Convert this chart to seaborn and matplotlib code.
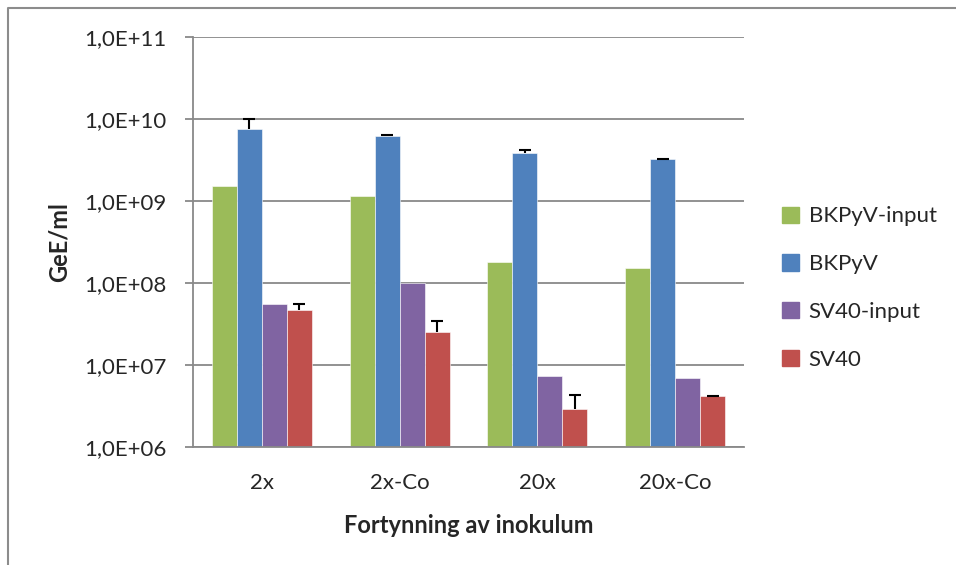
import numpy as np
import pandas as pd
import seaborn as sns
from matplotlib import pyplot as plt
from matplotlib.lines import Line2D
from matplotlib.ticker import FuncFormatter, FixedLocator, NullLocator

#%%
categories = ['2x', '2x-Co', '20x', '20x-Co']
series = ['BKPyV-input', 'BKPyV', 'SV40-input', 'SV40']
bkpyv_input = [1.50e9, 1.15e9, 1.77e8, 1.52e8]
bkpyv = [7.6e9, 6.2e9, 3.8e9, 3.2e9]
sv40_input = [5.5e7, 1.0e8, 7.3e6, 6.9e6]
sv40 = [4.7e7, 2.5e7, 2.9e6, 4.15e6]
# upper error only
bkpyv_err = [2.3e9, 0.12e9, 0.37e9, 0.06e9]
sv40_err = [0.8e7, 0.95e7, 1.4e6, 0.06e6]

colors = ['#9BBB59', '#4F81BD', '#8064A2', '#C0504D']
grid_grey = '#898989'

df = pd.DataFrame({
    'Fortynning': np.tile(categories, 4),
    'Serie': np.repeat(series, 4),
    'GeE': bkpyv_input + bkpyv + sv40_input + sv40,
})

#%%
sns.set_style('white')
plt.rcParams['font.family'] = ['Lato', 'DejaVu Sans']
fs = 16

fig = plt.figure(figsize=(9.56, 5.65), dpi=100)
ax = fig.add_axes([0.2019, 0.2094, 0.5764, 0.7251])

sns.barplot(data=df, x='Fortynning', y='GeE', hue='Serie', order=categories,
            hue_order=series, palette=colors, width=0.726, saturation=1,
            edgecolor='white', linewidth=0.4, ax=ax, legend=True)

ax.set_yscale('log')
ax.set_ylim(1e6, 1e11)
ax.set_xlim(-0.5, 3.5)

# error bars for BKPyV and SV40 (upper part only)
for cont, err in [(ax.containers[1], bkpyv_err), (ax.containers[3], sv40_err)]:
    xs = [p.get_x() + p.get_width() / 2 for p in cont.patches]
    ys = [p.get_height() for p in cont.patches]
    eb = ax.errorbar(xs, ys, yerr=[np.zeros(len(err)), err], fmt='none',
                     ecolor='black', elinewidth=1.5, capsize=4.3, capthick=1.5)
    eb[1][0].set_visible(False)

ax.yaxis.set_major_locator(FixedLocator([10.0 ** k for k in range(6, 12)]))
ax.yaxis.set_minor_locator(NullLocator())
ax.yaxis.set_major_formatter(FuncFormatter(lambda v, p: '1,0E+%02d' % round(np.log10(v))))
ax.grid(axis='y', color=grid_grey, linewidth=1.3)
ax.set_axisbelow(True)

ax.set_xticks(range(4))
ax.set_xticklabels(categories)
ax.set_xticks([-0.5, 0.5, 1.5, 2.5, 3.5], minor=True)
ax.tick_params(axis='x', which='major', length=0, labelsize=fs, pad=19)
ax.tick_params(axis='x', which='minor', length=6, width=1.3, color=grid_grey, direction='out')
ax.tick_params(axis='y', length=6, width=1.3, color=grid_grey, direction='out',
               labelsize=fs, pad=13, left=True)

for s in ['top', 'right']:
    ax.spines[s].set_visible(False)
for s in ['left', 'bottom']:
    ax.spines[s].set_color(grid_grey)
    ax.spines[s].set_linewidth(1.3)

ax.set_xlabel('Fortynning av inokulum', fontsize=17, fontweight='bold', labelpad=15)
ax.set_ylabel('GeE/ml', fontsize=17, fontweight='bold', labelpad=10)

ax.get_legend().remove()
handles = [plt.Rectangle((0, 0), 1, 1, color=c) for c in colors]
fig.legend(handles, series, loc='center left', bbox_to_anchor=(0.797, 0.49),
           frameon=False, fontsize=fs, handlelength=0.75, handleheight=0.75,
           handletextpad=0.45, labelspacing=1.25)

# outer chart frame (left + top edge, the rest is cut off)
fig.add_artist(Line2D([0.0084, 0.0084, 1.0], [0.0, 0.9858, 0.9858],
                      transform=fig.transFigure, color='#8c8c8c', linewidth=1.5))

fig.savefig('out.png', dpi=100)
